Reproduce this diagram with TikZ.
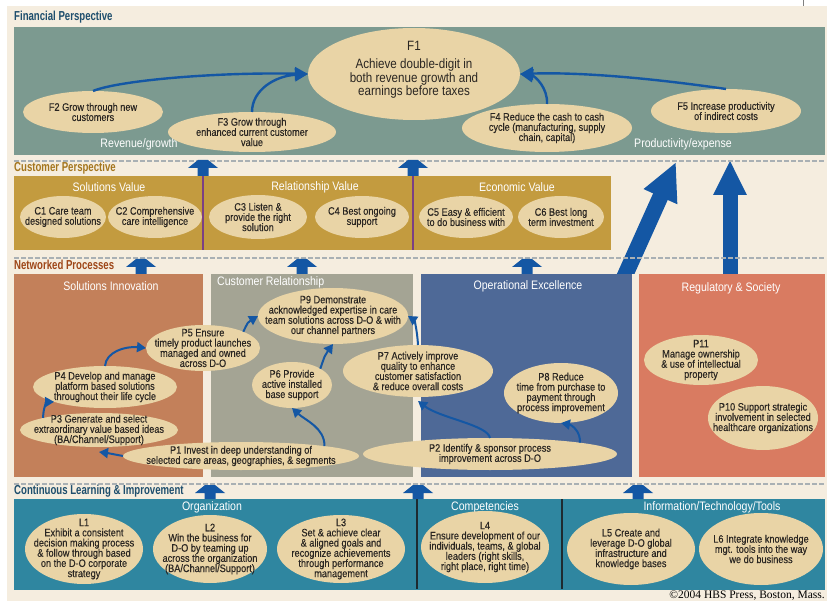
\documentclass[tikz,border=0pt]{standalone}
\usepackage{fontspec}
\setmainfont{Liberation Sans}[FakeStretch=0.86]
\newfontfamily\bodyfont{Liberation Sans}[FakeStretch=0.85, FakeBold=0.25]
\newfontfamily\hdfont{Liberation Sans}[FakeStretch=0.74]
\newfontfamily\cpfont{Liberation Serif}
\usetikzlibrary{shapes.geometric,arrows.meta}

\definecolor{cream}{HTML}{F5EDDF}
\definecolor{finbox}{HTML}{7C9A90}
\definecolor{goldbox}{HTML}{C39B3F}
\definecolor{bubfill}{HTML}{E9D4A6}
\definecolor{arrblue}{HTML}{1457A4}
\definecolor{solinn}{HTML}{C3805A}
\definecolor{custrel}{HTML}{A4A494}
\definecolor{opex}{HTML}{4E6997}
\definecolor{regsoc}{HTML}{D97B61}
\definecolor{learnbox}{HTML}{2F86A0}
\definecolor{divpurple}{HTML}{7B3F84}
\definecolor{divdark}{HTML}{1E2A30}
\definecolor{navyhd}{HTML}{1E4E6D}
\definecolor{goldhd}{HTML}{A5761E}
\definecolor{rusthd}{HTML}{9E4618}
\definecolor{dashgray}{HTML}{A9B0B4}
\definecolor{txtdark}{HTML}{2A2622}

\tikzset{
  bubble/.style={ellipse, fill=bubfill, inner sep=0pt, outer sep=0pt},
  btext/.style={align=center, inner sep=0pt, text=txtdark, font=\bodyfont\fontsize{10.8}{10.2}\selectfont},
  bigtext/.style={align=center, inner sep=0pt, text=txtdark, font=\fontsize{13.5}{13.5}\selectfont},
  hdr/.style={anchor=west, inner sep=0pt, font=\hdfont\bfseries\fontsize{13}{13}\selectfont},
  ttl/.style={inner sep=0pt, text=white, font=\fontsize{12.3}{12.3}\selectfont},
  farrow/.style={draw=arrblue, line width=2.4pt, -{Triangle[width=13pt,length=13pt]}},
  parrow/.style={draw=arrblue, line width=2pt, -{Triangle[width=10pt,length=9pt]}},
  dashrule/.style={draw=dashgray, line width=1.2pt, dash pattern=on 5pt off 2pt},
  bigarrow/.style={draw=arrblue, line width=#1},
}

% ellipse with its text: name, centre, width, height, text
\newcommand\bub[5]{%
  \node[bubble, minimum width=#3pt, minimum height=#4pt] (#1) at (#2) {};
  \node[btext] (#1t) at (#1.center) {#5};
}

% small block arrow pointing up: x, bottom y, tip y
\newcommand\upblock[3]{%
  \fill[arrblue] (#1-5.5,#2) -- (#1-5.5,#3+8) -- (#1-15,#3+8) -- (#1-5,#3)
    -- (#1+5,#3) -- (#1+15,#3+8) -- (#1+5.5,#3+8) -- (#1+5.5,#2) -- cycle;
}

\begin{document}
\begin{tikzpicture}[x=1pt,y=-1pt]
\useasboundingbox (0,0) rectangle (827,601);
\fill[white] (0,0) rectangle (827,601);
\fill[cream] (7,6) rectangle (827,601);
\draw[gray, line width=0.8pt] (803,0) -- (803,6);

% ---- layer boxes
\fill[finbox] (14,27) rectangle (825,155);
\fill[goldbox] (14,176) rectangle (611,250);
\draw[divpurple, line width=1.5pt] (203,170) -- (203,250);
\draw[divpurple, line width=1.5pt] (413,170) -- (413,250);

\fill[solinn] (14,274) rectangle (203,477);
\fill[custrel] (211,274) rectangle (413,477);
\fill[opex] (421,274) rectangle (632,477);
\fill[regsoc] (639,274) rectangle (825,477);

\fill[learnbox] (14,499) rectangle (825,590);
\draw[divdark, line width=2pt] (417,499) -- (417,589);
\draw[divdark, line width=2pt] (562,499) -- (562,589);

% ---- large arrows from processes to financial results
\begin{scope}
  \clip (0,0) rectangle (827,274);
  \draw[bigarrow=16pt, -{Triangle[width=34pt,length=38pt]}] (618,291) -- (676,162);
  \draw[bigarrow=15pt, -{Triangle[width=31pt,length=35pt]}] (730,290) -- (730,160);
\end{scope}

% ---- dashed separators
\draw[dashrule] (14,161) -- (825,161);
\draw[dashrule] (14,258) -- (825,258);
\draw[dashrule] (14,484) -- (825,484);

% ---- small block arrows between layers
\upblock{203}{176}{160}
\upblock{413}{176}{160}
\upblock{141}{274}{259}
\upblock{302}{274}{259}
\upblock{527}{274}{259}
\upblock{210}{499}{485}
\upblock{418}{499}{485}
\upblock{638}{499}{485}

% ---- layer headings
\node[hdr, text=navyhd] (hfin) at (14,17) {Financial Perspective};
\node[hdr, text=goldhd] (hcus) at (14,168) {Customer Perspective};
\node[hdr, text=rusthd] (hnet) at (14,265) {Networked Processes};
\node[hdr, text=navyhd] (hlrn) at (14,491) {Continuous Learning \& Improvement};

% ---- group titles
\node[ttl] (trev) at (139,144) {Revenue/growth};
\node[ttl] (tprod) at (683,144) {Productivity/expense};
\node[ttl] (tsolv) at (109,187) {Solutions Value};
\node[ttl] (trelv) at (315,187) {Relationship Value};
\node[ttl] (tecov) at (517,187) {Economic Value};
\node[ttl] (tsoli) at (111,286) {Solutions Innovation};
\node[ttl, anchor=west] (tcrel) at (217,282) {Customer Relationship};
\node[ttl] (topex) at (528,286) {Operational Excellence};
\node[ttl] (treg) at (731,288) {Regulatory \& Society};
\node[ttl] (torg) at (212,507) {Organization};
\node[ttl] (tcomp) at (485,507) {Competencies};
\node[ttl] (tinfo) at (712,507) {Information/Technology/Tools};

% ---- financial objectives
\node[bubble, minimum width=212pt, minimum height=92pt] (F1) at (414,74) {};
\node[bigtext] (F1t) at (414,70) {F1\\[5pt]Achieve double-digit in\\both revenue growth and\\earnings before taxes};
\bub{F2}{93,112}{140}{42}{F2 Grow through new\\customers}
\bub{F3}{252,132}{168}{40}{F3 Grow through\\enhanced current customer\\value}
\bub{F4}{547,128}{170}{48}{F4 Reduce the cash to cash\\cycle (manufacturing, supply\\chain, capital)}
\bub{F5}{726,111}{150}{44}{F5 Increase productivity\\of indirect costs}

% ---- customer objectives
\bub{C1}{63,217}{86}{42}{C1 Care team\\designed solutions}
\bub{C2}{155,217}{94}{42}{C2 Comprehensive\\care intelligence}
\bub{C3}{258,217}{98}{44}{C3 Listen \&\\provide the right\\solution}
\bub{C4}{362,217}{94}{42}{C4 Best ongoing\\support}
\bub{C5}{466,217}{94}{42}{C5 Easy \& efficient\\to do business with}
\bub{C6}{561,217}{86}{42}{C6 Best long\\term investment}

% ---- process objectives
\bub{P5}{203,348}{114}{46}{P5 Ensure\\timely product launches\\managed and owned\\across D-O}
\bub{P4}{105,387}{144}{42}{P4 Develop and manage\\platform based solutions\\throughout their life cycle}
\bub{P3}{99,430}{158}{34}{P3 Generate and select\\extraordinary value based ideas\\(BA/Channel/Support)}
\bub{P1}{241,456}{236}{28}{P1 Invest in deep understanding of\\selected care areas, geographies, \& segments}
\bub{P9}{333,316}{150}{56}{P9 Demonstrate\\acknowledged expertise in care\\team solutions across D-O \& with\\our channel partners}
\bub{P6}{292,385}{80}{46}{P6 Provide\\active installed\\base support}
\bub{P7}{418,371}{150}{52}{P7 Actively improve\\quality to enhance\\customer satisfaction\\\& reduce overall costs}
\bub{P2}{490,454}{254}{32}{P2 Identify \& sponsor process\\improvement across D-O}
\bub{P8}{561,393}{114}{60}{P8 Reduce\\time from purchase to\\payment through\\process improvement}
\bub{P11}{701,360}{114}{50}{P11\\Manage ownership\\\& use of intellectual\\property}
\bub{P10}{763,418}{110}{64}{P10 Support strategic\\involvement in selected\\healthcare organizations}

% ---- learning objectives
\bub{L1}{84,549}{118}{70}{L1\\Exhibit a consistent\\decision making process\\\& follow through based\\on the D-O corporate\\strategy}
\bub{L2}{210,549}{114}{68}{L2\\Win the business for\\D-O by teaming up\\across the organization\\(BA/Channel/Support)}
\bub{L3}{341,549}{128}{68}{L3\\Set \& achieve clear\\\& aligned goals and\\recognize achievements\\through performance\\management}
\bub{L4}{485,547}{128}{72}{L4\\Ensure development of our\\individuals, teams, \& global\\leaders (right skills,\\right place, right time)}
\bub{L5}{631,549}{128}{72}{L5 Create and\\leverage D-O global\\infrastructure and\\knowledge bases}
\bub{L6}{761,549}{124}{72}{L6 Integrate knowledge\\mgt. tools into the way\\we do business}

% ---- financial links
\draw[farrow] (F2.north) .. controls (120,80) and (220,72) .. (F1.west);
\draw[farrow] (F3.north) .. controls (252,90) and (275,76) .. (F1.west);
\draw[farrow] (F4.north) .. controls (548,88) and (535,76) .. (F1.east);
\draw[farrow] (F5.north) .. controls (650,78) and (580,72) .. (F1.east);

% ---- process links
\draw[parrow] (P1.west) .. controls (115,454) .. ([yshift=-5pt]P3.south);
\draw[parrow] (P3.north west) .. controls (43,408) and (47,402) .. (P4.south west);
\draw[parrow] (P4.north) .. controls (106,352) and (125,346) .. (P5.west);
\draw[parrow] (P5.north east) .. controls (248,322) .. (P9.west);
\draw[parrow] (P6.north east) .. controls (325,355) .. (P9.south);
\draw[parrow] (P1.north east) .. controls (325,428) and (305,420) .. (P6.south);
\draw[parrow] (P7.north) .. controls (417,328) and (414,320) .. (P9.east);
\draw[parrow] (P2.north) .. controls (488,425) and (440,418) .. ([yshift=-4pt]P7.south);
\draw[parrow] (P2.north east) .. controls (581,432) and (572,425) .. (P8.south);

% ---- credit line
\node[anchor=base east, inner sep=0pt, font=\cpfont\fontsize{11.5}{11.5}\selectfont] (credit) at (825,598) {\textcopyright2004 HBS Press, Boston, Mass.};
\end{tikzpicture}
\end{document}
